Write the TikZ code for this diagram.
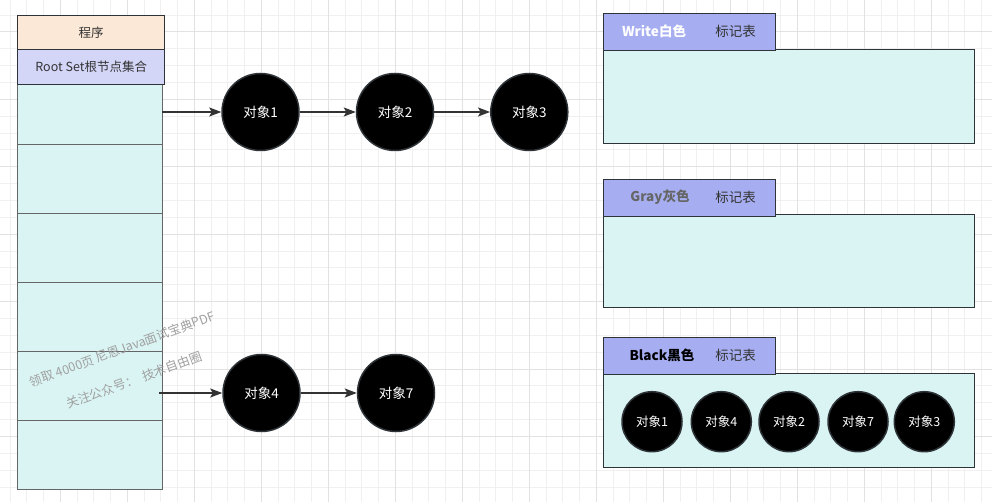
\documentclass[tikz,border=0pt]{standalone}
\usepackage{fontspec}
\setmainfont{Noto Sans CJK SC}
\usetikzlibrary{arrows.meta}
\definecolor{gridminor}{HTML}{F0F0F0}
\definecolor{gridmajor}{HTML}{E2E2E2}
\definecolor{cellfill}{HTML}{DAF4F4}
\definecolor{cellline}{HTML}{666666}
\definecolor{peach}{HTML}{FCE8D7}
\definecolor{lav}{HTML}{D4D6F8}
\definecolor{tabfill}{HTML}{A6AEF1}
\definecolor{darkline}{HTML}{2E3338}
\definecolor{arrowc}{HTML}{333333}
\definecolor{txt}{HTML}{333333}
\definecolor{wmark}{HTML}{A0A0A0}
\begin{document}
\begin{tikzpicture}[x=1pt,y=-1pt,
  cell/.style={draw=cellline, fill=cellfill, line width=1pt, minimum width=145pt, minimum height=69pt, anchor=north west, inner sep=0pt},
  headbox/.style={draw=darkline, line width=1.4pt, minimum width=147pt, anchor=north west, inner sep=0pt, text=txt, font=\fontsize{12.5}{14}\selectfont},
  obj/.style={circle, fill=black, draw=darkline, line width=1.5pt, minimum size=77pt, inner sep=0pt, text=white, font=\fontsize{13.5}{15}\selectfont},
  sobj/.style={obj, minimum size=60pt, font=\fontsize{12.5}{14}\selectfont},
  link/.style={draw=arrowc, line width=1.3pt, -{Stealth[length=12pt,width=9pt,inset=2.5pt]}},
  panel/.style={draw=darkline, fill=cellfill, line width=1.4pt, minimum width=371pt, minimum height=94pt, anchor=north west, inner sep=0pt},
  tab/.style={draw=darkline, fill=tabfill, line width=1.4pt, minimum width=172pt, minimum height=37pt, anchor=north west, inner sep=0pt},
  tabtitle/.style={font=\bfseries\fontsize{13.5}{15}\selectfont},
  tabnote/.style={text=txt, font=\fontsize{13.5}{15}\selectfont},
  wm/.style={text=wmark, rotate=20, font=\fontsize{12.5}{14}\selectfont}
]
\useasboundingbox (0,0) rectangle (992,502);
\begin{scope}
\clip (0,0) rectangle (992,502);
\fill[white] (0,0) rectangle (992,502);
\foreach \i in {0,...,59} \draw[gridminor, line width=0.9pt] ({10+16.75*\i},0) -- ++(0,502);
\foreach \j in {0,...,29} \draw[gridminor, line width=0.9pt] (0,{15+16.86*\j}) -- ++(992,0);
\foreach \i in {0,...,14} \draw[gridmajor, line width=0.9pt] ({60.25+67*\i},0) -- ++(0,502);
\foreach \j in {0,...,7} \draw[gridmajor, line width=0.9pt] (0,{31.8+67.44*\j}) -- ++(992,0);
\end{scope}

% left stack
\node[cell] (c1) at (17,75) {};
\node[cell] (c2) at (17,144) {};
\node[cell] (c3) at (17,213) {};
\node[cell] (c4) at (17,282) {};
\node[cell] (c5) at (17,351) {};
\node[cell] (c6) at (17,420) {};
\node[headbox, fill=peach, minimum height=34pt] (prog) at (17,15) {程序};
\node[headbox, fill=lav, minimum height=35pt] (root) at (17,49) {Root Set根节点集合};

% watermark
\node[wm] (wm1) at (122,349) {领取 4000页 尼恩Java面试宝典PDF};
\node[wm] (wm2) at (134,380) {关注公众号：\ \ 技术自由圈};

% objects
\node[obj] (o1) at (260.5,112) {对象1};
\node[obj] (o2) at (395,112) {对象2};
\node[obj] (o3) at (529.3,112) {对象3};
\node[obj] (o4) at (261.5,393) {对象4};
\node[obj] (o7) at (396,393) {对象7};
\coordinate (s1) at (162,112);
\coordinate (s4) at (159,393);
\draw[link] (s1) -- (o1);
\draw[link] (o1) -- (o2);
\draw[link] (o2) -- (o3);
\draw[link] (s4) -- (o4);
\draw[link] (o4) -- (o7);

% right panels
\node[panel] (wbody) at (603,49) {};
\node[tab] (wtab) at (603,13) {};
\node[tabtitle, text=white] (wt) at (654,31.5) {Write白色};
\node[tabnote] (wn) at (735.5,31.5) {标记表};

\node[panel, minimum height=93pt] (gbody) at (603,214) {};
\node[tab] (gtab) at (603,179) {};
\node[tabtitle, text=cellline] (gt) at (660,197.5) {Gray灰色};
\node[tabnote] (gn) at (735.5,197.5) {标记表};

\node[panel] (bbody) at (603,373) {};
\node[tab] (btab) at (603,337) {};
\node[tabtitle, text=black] (bt) at (662,355.5) {Black黑色};
\node[tabnote] (bn) at (735.5,355.5) {标记表};

\node[sobj] (b1) at (652,421.7) {对象1};
\node[sobj] (b4) at (721.3,421.7) {对象4};
\node[sobj] (b2) at (789,421.7) {对象2};
\node[sobj] (b7) at (858,421.7) {对象7};
\node[sobj] (b3) at (924.3,421.7) {对象3};
\end{tikzpicture}
\end{document}
